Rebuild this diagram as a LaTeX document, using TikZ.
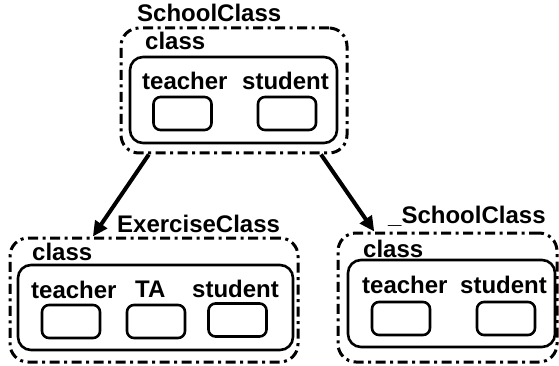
\documentclass[tikz,border=0pt]{standalone}
\usepackage{fontspec}
\setmainfont{Liberation Sans}
\usetikzlibrary{arrows.meta,calc}
\begin{document}
\begin{tikzpicture}[x=1pt,y=-1pt,
  outerbox/.style={draw, line width=3pt, rounded corners=18pt,
    dash pattern=on 10pt off 4.5pt on 3pt off 4.5pt, inner sep=0pt},
  innerbox/.style={draw, line width=2.6pt, rounded corners=13pt, inner sep=0pt},
  slot/.style={draw, line width=2.6pt, rounded corners=7pt, inner sep=0pt,
    minimum width=58pt, minimum height=33pt},
  lbl/.style={anchor=base west, inner sep=0pt,
    font=\fontsize{24}{27}\selectfont\bfseries},
  link/.style={line width=4pt, -{Triangle[length=15pt,width=14pt]}}
]
\useasboundingbox (0,0) rectangle (559,366);

% SchoolClass
\node[outerbox, minimum width=226pt, minimum height=125pt] (sc) at (234,90.5) {};
\node[innerbox, minimum width=207pt, minimum height=86pt] (scin) at (233.5,100) {};
\node[slot] (sct) at (182.5,113.5) {};
\node[slot] (scs) at (287,113.5) {};
\node[lbl] (scname) at (137,22) {SchoolClass};
\node[lbl] (sccl) at (145,50) {class};
\node[lbl] (sctl) at (142,90) {teacher};
\node[lbl] (scsl) at (242,90) {student};

% ExerciseClass
\node[outerbox, minimum width=288pt, minimum height=124pt] (ec) at (154,300) {};
\node[innerbox, minimum width=275pt, minimum height=85pt] (ecin) at (155.5,307.5) {};
\node[slot] (ect) at (71,321.5) {};
\node[slot] (eca) at (156,321.5) {};
\node[slot] (ecs) at (237.5,320) {};
\node[lbl] (ecname) at (117,232) {ExerciseClass};
\node[lbl] (eccl) at (32,260) {class};
\node[lbl] (ectl) at (31,298) {teacher};
\node[lbl] (ecal) at (135,297) {TA};
\node[lbl] (ecsl) at (192,297) {student};

% _SchoolClass
\node[outerbox, minimum width=219pt, minimum height=129pt] (xc) at (447.5,297.5) {};
\node[innerbox, minimum width=207pt, minimum height=87pt] (xcin) at (451.5,303.5) {};
\node[slot] (xct) at (401,318.5) {};
\node[slot] (xcs) at (506,318.5) {};
\node[lbl] (xcname) at (388,223) {\_SchoolClass};
\node[lbl] (xccl) at (363,257) {class};
\node[lbl] (xctl) at (362,293) {teacher};
\node[lbl] (xcsl) at (460,293) {student};

% derivation arrows
\draw[link] ($(sc.south west)!0.128!(sc.south east)$) -- ($(ec.north west)!0.29!(ec.north east)$);
\draw[link] ($(sc.south west)!0.88!(sc.south east)$) -- ($(xc.north west)!0.17!(xc.north east)$);
\end{tikzpicture}
\end{document}
